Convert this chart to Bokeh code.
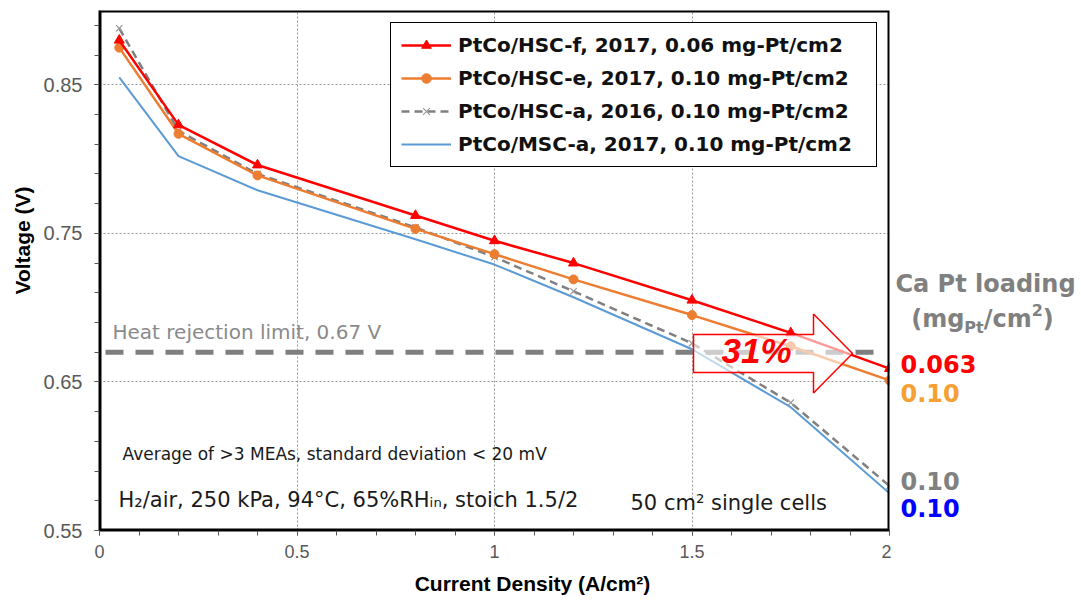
import math
from bokeh.plotting import figure
from bokeh.layouts import row
from bokeh.models import (Range1d, FixedTicker, CustomJSTickFormatter, Label,
                          PolyAnnotation, Legend, LegendItem, BoxAnnotation)
from bokeh.embed import file_html
from bokeh.resources import INLINE

# ---------------- data ----------------
current = [0.05, 0.2, 0.4, 0.8, 1.0, 1.2, 1.5, 1.75, 2.0]
v_hsc_f = [0.880, 0.823, 0.796, 0.762, 0.745, 0.730, 0.705, 0.683, 0.659]
v_hsc_e = [0.875, 0.817, 0.789, 0.753, 0.736, 0.719, 0.695, 0.674, 0.651]
v_hsc_a = [0.888, 0.819, 0.790, 0.754, 0.734, 0.711, 0.676, 0.636, 0.580]
v_msc_a = [0.855, 0.802, 0.779, 0.746, 0.729, 0.707, 0.672, 0.633, 0.575]

series_names = ["PtCo/HSC-f, 2017, 0.06 mg-Pt/cm2",
                "PtCo/HSC-e, 2017, 0.10 mg-Pt/cm2",
                "PtCo/HSC-a, 2016, 0.10 mg-Pt/cm2",
                "PtCo/MSC-a, 2017, 0.10 mg-Pt/cm2"]
loading_labels = ["0.063", "0.10", "0.10", "0.10"]
heat_limit = 0.67
improvement = "31%"

x_major = [0, 0.5, 1, 1.5, 2]
x_minor = [round(0.1 * i, 2) for i in range(21)]
y_major = [0.55, 0.65, 0.75, 0.85]
y_minor = [round(0.55 + 0.02 * i, 2) for i in range(18)]

RED = "#FF0000"
ORANGE = "#ED7D31"
GRAY = "#808080"
BLUE = "#5B9BD5"

W, H = 1081, 601
L, T, B = 99, 10, 71
FRAME_RIGHT = 889
MAIN_W = FRAME_RIGHT + 2
SIDE_W = W - MAIN_W
X0, X1, Y0, Y1 = 0.0, 2.0, 0.55, 0.90
FW, FH = FRAME_RIGHT - L, H - T - B


def dx(px):
    return X0 + (px - L) / FW * (X1 - X0)


def dy(py):
    return Y0 + (T + FH - py) / FH * (Y1 - Y0)


p = figure(width=MAIN_W, height=H, output_backend="svg", toolbar_location=None,
           x_range=Range1d(X0, X1), y_range=Range1d(Y0, Y1),
           min_border_left=L, min_border_right=MAIN_W - FRAME_RIGHT,
           min_border_top=T, min_border_bottom=B)
p.background_fill_color = "white"
p.border_fill_color = "white"
p.outline_line_color = None

fmt = CustomJSTickFormatter(code="return tick.toString();")
for ax, maj, mnr, fs in ((p.xaxis[0], x_major, x_minor, "18px"),
                         (p.yaxis[0], y_major, y_minor, "20px")):
    ax.ticker = FixedTicker(ticks=maj, minor_ticks=mnr)
    ax.formatter = fmt
    ax.axis_line_color = "black"
    ax.axis_line_width = 2
    ax.major_tick_in = 0
    ax.major_tick_out = 5
    ax.minor_tick_in = 0
    ax.minor_tick_out = 5
    ax.major_tick_line_color = "#555555"
    ax.minor_tick_line_color = "#555555"
    ax.major_label_text_font = "Liberation Sans"
    ax.major_label_text_font_size = fs
    ax.major_label_text_color = "#595959"
p.xaxis.major_label_standoff = 9
p.yaxis.major_label_standoff = 12

p.xgrid.ticker = FixedTicker(ticks=x_major)
p.ygrid.ticker = FixedTicker(ticks=y_major)
for g in (p.xgrid[0], p.ygrid[0]):
    g.grid_line_color = "#9a9a9a"
    g.grid_line_dash = "2 2"
    g.grid_line_width = 1

# frame border (clipped to the frame, so twice as wide)
p.add_layout(BoxAnnotation(left=X0, right=X1, bottom=Y0, top=Y1, fill_alpha=0,
                           line_color="black", line_alpha=1, line_width=4))

# heat rejection limit
p.segment(x0=[dx(105)], y0=[heat_limit], x1=[dx(873)], y1=[heat_limit],
          line_color="#7f7f7f", line_width=5, line_dash="18 12")

# series (blue bottom, red top)
r_blue = p.line(current, v_msc_a, line_color=BLUE, line_width=2)
r_gray = p.line(current, v_hsc_a, line_color=GRAY, line_width=2.5, line_dash="8 5")
r_gray_m = p.scatter(current, v_hsc_a, marker="x", size=9, line_color="#999999",
                     line_width=1.2)
r_or = p.line(current, v_hsc_e, line_color=ORANGE, line_width=2.5)
r_or_m = p.scatter(current, v_hsc_e, marker="circle", size=9, fill_color=ORANGE,
                   line_color=ORANGE)
r_red = p.line(current, v_hsc_f, line_color=RED, line_width=2.5)
r_red_m = p.scatter(current, v_hsc_f, marker="triangle", size=10, fill_color=RED,
                    line_color=RED)

legend = Legend(items=[
    LegendItem(label=series_names[0], renderers=[r_red, r_red_m]),
    LegendItem(label=series_names[1], renderers=[r_or, r_or_m]),
    LegendItem(label=series_names[2], renderers=[r_gray, r_gray_m]),
    LegendItem(label=series_names[3], renderers=[r_blue]),
])
legend.location = "top_right"
legend.margin = 12
legend.padding = 10
legend.spacing = 9
legend.glyph_width = 50
legend.glyph_height = 24
legend.label_height = 24
legend.label_width = 408
legend.label_standoff = 7
legend.label_text_font = "DejaVu Sans"
legend.label_text_font_style = "bold"
legend.label_text_font_size = "20px"
legend.label_text_color = "#111111"
legend.border_line_color = "black"
legend.border_line_width = 1
legend.border_line_alpha = 1
legend.background_fill_color = "white"
legend.background_fill_alpha = 1
p.add_layout(legend)

# block arrow (31 %)
yc = dy(353)
bh, hh = 0.0128, 0.0266
xa, xb, xt = dx(693), dx(813), dx(852)
arrow = PolyAnnotation(
    xs=[xa, xb, xb, xt, xb, xb, xa],
    ys=[yc + bh, yc + bh, yc + hh, yc, yc - hh, yc - bh, yc - bh],
    fill_color="white", fill_alpha=0.6, line_color=RED, line_alpha=1,
    line_width=1.5)
p.add_layout(arrow)


def lab(fig, x, y, text, font="DejaVu Sans", size="20px", color="#1a1a1a",
        style="normal", align="left", angle=0.0):
    fig.add_layout(Label(x=x, y=y, text=text, text_font=font, text_font_size=size,
                         text_color=color, text_font_style=style,
                         text_align=align, text_baseline="middle", angle=angle))


def side_lab(side, sx, sy, text, font="Liberation Sans", size="21px",
             color="black", style="bold", align="center", angle=0.0):
    p.add_layout(Label(x=sx, y=sy, x_units="screen", y_units="screen",
                       text=text, text_font=font, text_font_size=size,
                       text_color=color, text_font_style=style,
                       text_align=align, text_baseline="middle", angle=angle),
                 side)


lab(p, dx(756), dy(350), improvement, font="Liberation Sans", size="35px",
    color=RED, style="bold italic", align="center")

lab(p, dx(112), dy(331), "Heat rejection limit, 0.67 V", size="20px",
    color="#8a8a8a")
lab(p, dx(122), dy(453), "Average of >3 MEAs, standard deviation < 20 mV",
    size="17px")
lab(p, dx(118), dy(499),
    "H\u2082/air, 250 kPa, 94\u00b0C, 65%RH\u1d62\u2099, stoich 1.5/2", size="21px")
lab(p, dx(630), dy(502), "50 cm\u00b2 single cells", size="21px")

# axis titles (side panels)
side_lab("left", 5, (T + FH) - 240, "Voltage (V)", angle=math.pi / 2)
side_lab("below", 532 - L, 0, "Current Density (A/cm\u00b2)")

# ---------------- right-hand panel ----------------
# the row aligns this panel's frame with the main frame (page rows T..T+FH)
q = figure(width=SIDE_W, height=H, output_backend="svg", toolbar_location=None,
           x_range=Range1d(MAIN_W, W), y_range=Range1d(T + FH, T),
           x_axis_type=None, y_axis_type=None,
           min_border_left=0, min_border_right=0, min_border_top=T,
           min_border_bottom=B)
q.grid.visible = False
q.outline_line_color = None
q.background_fill_color = "white"
q.border_fill_color = "white"

lab(q, 985, 283, "Ca Pt loading", size="24px", color=GRAY, style="bold",
    align="center")
big, small = 24, 16
pieces = [("(mg", big, 2.215, 0), ("Pt", small, 1.211, 9), ("/cm", big, 2.0, 0),
          ("2", small, 0.696, -9), (")", big, 0.457, 0)]
total = sum(fs * w for _, fs, w, _ in pieces)
xp = 982 - total / 2
for txt, fs, w, off in pieces:
    lab(q, xp, 318 + off, txt, size=f"{fs}px", color=GRAY, style="bold")
    xp += fs * w

label_colors = [RED, "#F4A035", GRAY, "#0000FF"]
label_ys = [363, 392, 480, 507]
for txt, c, py in zip(loading_labels, label_colors, label_ys):
    lab(q, 900, py, txt, size="24px", color=c, style="bold")

layout = row(p, q, spacing=0)
open("out.html", "w").write(file_html(layout, INLINE))
